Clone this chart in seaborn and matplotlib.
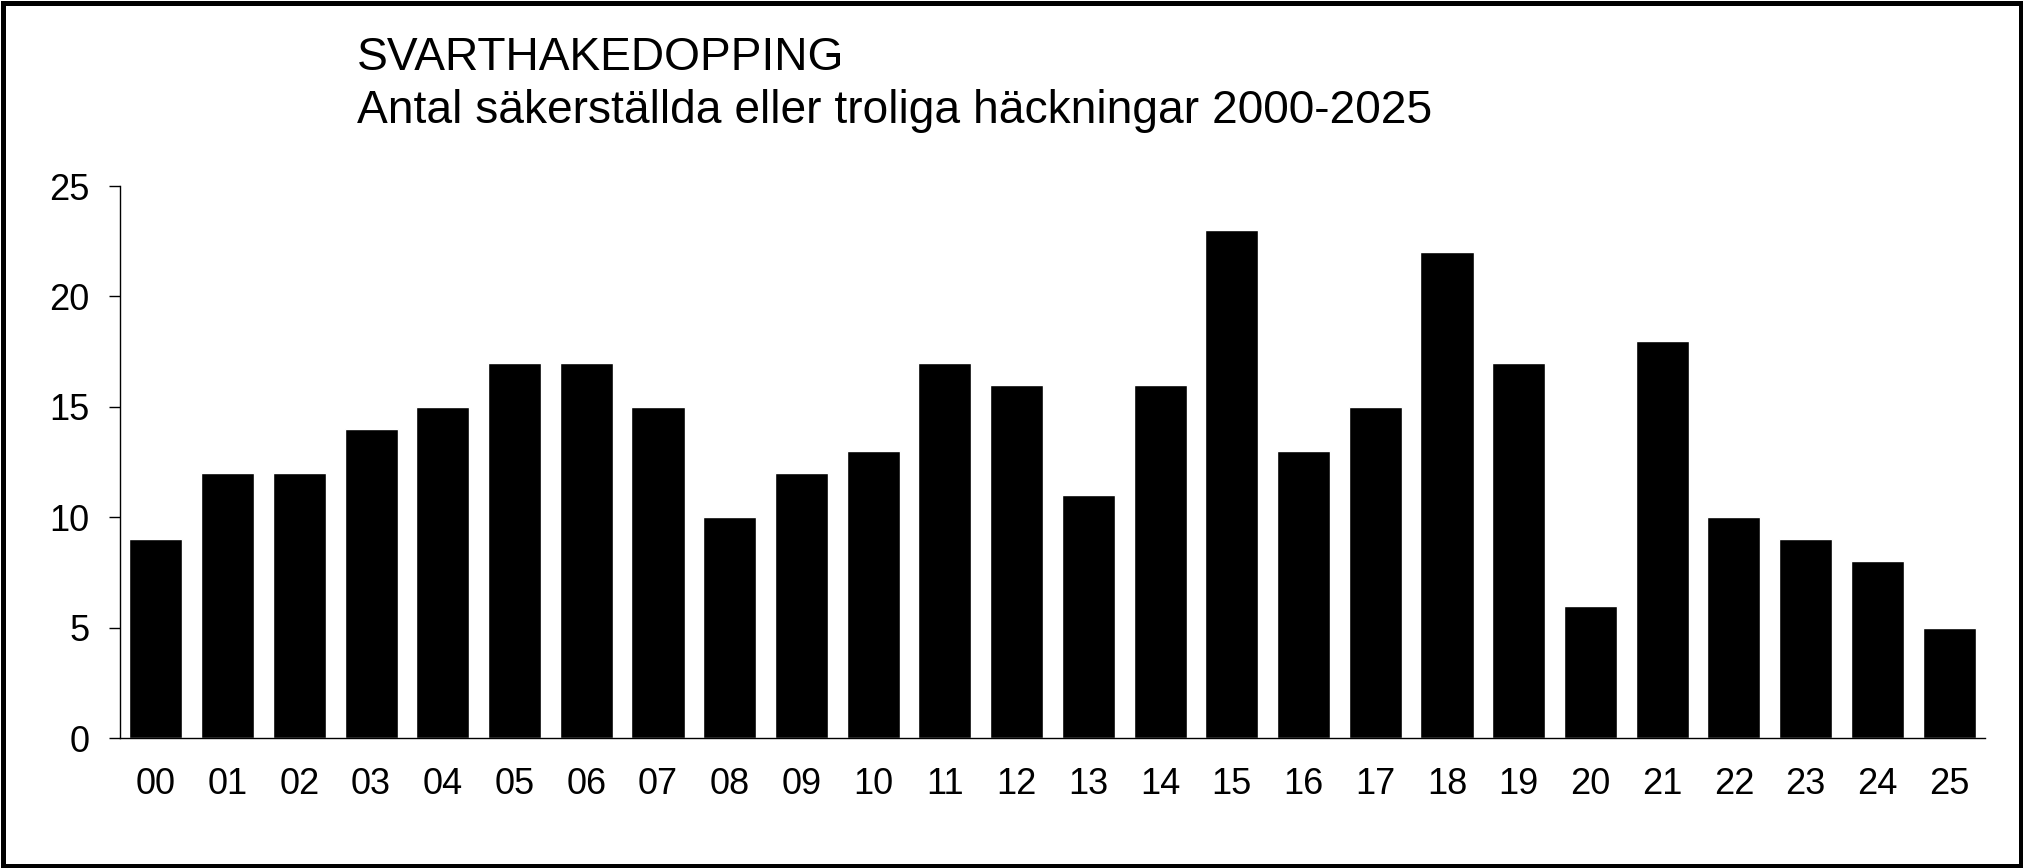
import matplotlib
matplotlib.use("Agg")
import matplotlib.pyplot as plt
import seaborn as sns
import pandas as pd
from matplotlib.patches import Rectangle

years = ["00", "01", "02", "03", "04", "05", "06", "07", "08", "09", "10", "11", "12",
         "13", "14", "15", "16", "17", "18", "19", "20", "21", "22", "23", "24", "25"]
counts = [9, 12, 12, 14, 15, 17, 17, 15, 10, 12, 13, 17, 16,
          11, 16, 23, 13, 15, 22, 17, 6, 18, 10, 9, 8, 5]
title_line1 = "SVARTHAKEDOPPING"
title_line2 = "Antal säkerställda eller troliga häckningar 2000-2025"
y_ticks = [0, 5, 10, 15, 20, 25]

sns.set_theme(style="white")
plt.rcParams["font.family"] = ["Liberation Sans", "DejaVu Sans"]

W, H = 2023, 868
fig = plt.figure(figsize=(W / 100, H / 100), dpi=100)
ax = fig.add_axes([120 / W, (H - 738) / H, 1865 / W, 552 / H])

df = pd.DataFrame({"year": years, "count": counts})
sns.barplot(data=df, x="year", y="count", color="black", saturation=1,
            width=0.74, ax=ax, order=years)

ax.set_xlim(-0.5, len(years) - 0.5)
ax.set_ylim(0, 25)
ax.set_yticks(y_ticks)
ax.set_yticklabels([str(t) for t in y_ticks])
ax.set_xlabel("")
ax.set_ylabel("")

for s in ["top", "right"]:
    ax.spines[s].set_visible(False)
for s in ["left", "bottom"]:
    ax.spines[s].set_color("black")
    ax.spines[s].set_linewidth(1.0)

ax.tick_params(axis="x", which="major", length=0, labelsize=26, pad=21, colors="black")
ax.set_xticks([i - 0.5 for i in range(len(years) + 1)], minor=True)
ax.tick_params(axis="x", which="minor", length=8, width=1.0, direction="out", color="black")
ax.tick_params(axis="y", which="major", length=8, width=1.0, direction="out",
               labelsize=26, pad=14, colors="black", left=True)

fig.text(357 / W, 1 - 70 / H, title_line1, fontsize=33.2, color="black",
         ha="left", va="baseline")
fig.text(357 / W, 1 - 123 / H, title_line2, fontsize=33.2, color="black",
         ha="left", va="baseline")

lw_px = 5
fig.patches.append(Rectangle((lw_px / 2 / W, lw_px / 2 / H), 1 - lw_px / W, 1 - lw_px / H,
                             transform=fig.transFigure, fill=False, edgecolor="black",
                             linewidth=lw_px * 0.72, zorder=10))

fig.savefig("out.png", dpi=100, facecolor="white")
